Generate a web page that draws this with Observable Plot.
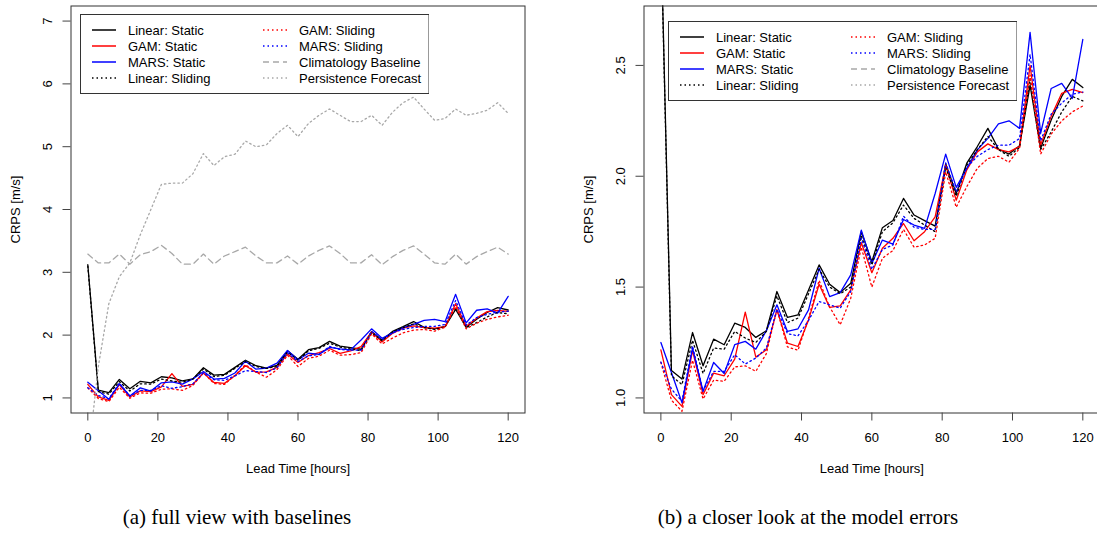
<!DOCTYPE html>
<html><head><meta charset="utf-8">
<script src="https://cdn.jsdelivr.net/npm/d3@7"></script>
<script src="https://cdn.jsdelivr.net/npm/@observablehq/plot@0.6"></script>
<style>
html,body{margin:0;padding:0;background:#fff;overflow:hidden;width:1097px;height:541px;}
#root{position:relative;width:1097px;height:541px;overflow:hidden;font-family:"Liberation Sans",Arial,sans-serif;}
.panel{position:absolute;top:0;}
.panel svg{max-width:none !important;}
.legend{position:absolute;}
.caption{position:absolute;font-family:"Liberation Serif","Times New Roman",serif;font-size:21px;line-height:21px;color:#000;white-space:nowrap;transform:translateX(-50%);}
</style></head><body><div id="root"></div>
<script>
// ---- data ----
const leadTimes = [0,3,6,9,12,15,18,21,24,27,30,33,36,39,42,45,48,51,54,57,60,63,66,69,72,75,78,81,84,87,90,93,96,99,102,105,108,111,114,117,120];
const linearStatic = [3.12,1.124,1.085,1.295,1.145,1.265,1.24,1.337,1.318,1.273,1.303,1.48,1.363,1.375,1.487,1.60,1.513,1.475,1.517,1.75,1.615,1.768,1.80,1.90,1.825,1.80,1.775,2.057,1.922,2.059,2.134,2.216,2.123,2.10,2.138,2.41,2.126,2.254,2.36,2.437,2.40];
const gamStatic = [1.217,1.015,0.962,1.213,1.015,1.112,1.10,1.175,1.387,1.184,1.217,1.397,1.247,1.232,1.352,1.513,1.408,1.415,1.487,1.70,1.565,1.675,1.72,1.787,1.709,1.75,1.817,2.05,1.892,2.029,2.11,2.146,2.12,2.11,2.134,2.50,2.141,2.27,2.374,2.392,2.377];
const marsStatic = [1.25,1.115,0.978,1.225,1.03,1.16,1.11,1.24,1.255,1.22,1.303,1.42,1.30,1.312,1.397,1.585,1.457,1.475,1.555,1.757,1.607,1.712,1.694,1.805,1.78,1.765,1.922,2.10,1.95,2.036,2.119,2.171,2.236,2.25,2.216,2.649,2.194,2.396,2.419,2.351,2.617];
const linearSliding = [3.1,1.10,1.06,1.26,1.11,1.225,1.22,1.30,1.27,1.25,1.30,1.46,1.34,1.36,1.47,1.58,1.50,1.47,1.50,1.73,1.60,1.75,1.79,1.87,1.81,1.78,1.75,2.04,1.91,2.05,2.12,2.18,2.12,2.09,2.13,2.44,2.12,2.20,2.29,2.36,2.34];
const gamSliding = [1.16,0.99,0.94,1.17,0.995,1.08,1.075,1.14,1.145,1.12,1.20,1.40,1.23,1.215,1.36,1.53,1.41,1.33,1.45,1.68,1.50,1.63,1.665,1.76,1.68,1.69,1.72,2.02,1.86,1.953,2.036,2.08,2.09,2.063,2.126,2.456,2.10,2.19,2.25,2.29,2.317];
const marsSliding = [1.162,1.04,0.985,1.235,1.03,1.12,1.12,1.195,1.153,1.18,1.225,1.40,1.29,1.28,1.35,1.435,1.42,1.405,1.48,1.72,1.58,1.67,1.69,1.82,1.77,1.76,1.76,2.06,1.93,2.04,2.09,2.12,2.14,2.14,2.17,2.55,2.16,2.28,2.33,2.37,2.38];
const climatology = [3.29,3.15,3.15,3.29,3.13,3.28,3.33,3.43,3.30,3.13,3.13,3.29,3.13,3.26,3.33,3.40,3.26,3.15,3.15,3.26,3.13,3.26,3.35,3.42,3.30,3.15,3.15,3.28,3.12,3.25,3.35,3.42,3.29,3.15,3.13,3.29,3.13,3.25,3.33,3.40,3.29];
const persistence = [0,1.5,2.5,2.93,3.15,3.6,4.0,4.4,4.42,4.42,4.57,4.89,4.7,4.84,4.88,5.09,5.0,5.03,5.21,5.34,5.16,5.37,5.5,5.6,5.5,5.4,5.4,5.5,5.34,5.55,5.7,5.79,5.6,5.42,5.45,5.6,5.5,5.53,5.58,5.7,5.53];

const seriesNames = ["Linear: Static","GAM: Static","MARS: Static","Linear: Sliding","GAM: Sliding","MARS: Sliding","Climatology Baseline","Persistence Forecast"];
const seriesValues = [linearStatic,gamStatic,marsStatic,linearSliding,gamSliding,marsSliding,climatology,persistence];
const xTicks = [0,20,40,60,80,100,120];
const yTicksFull = [1,2,3,4,5,6,7];
const yTicksZoom = [1.0,1.5,2.0,2.5];
const xLabel = "Lead Time [hours]";
const yLabel = "CRPS [m/s]";
const captions = ["(a) full view with baselines","(b) a closer look at the model errors"];

// ---- styles ----
const seriesColor = ["#000000","#ff0000","#0000ff","#000000","#ff0000","#0000ff","#a8a8a8","#a8a8a8"];
const seriesDash = [null,null,null,"1.5,3","1.5,3","1.5,3","6,4","1.5,3"];

const rowsFor = i => leadTimes.map((t, j) => ({lead: t, value: seriesValues[i][j]}));

function panel({width, marginLeft, marginRight, yDomain, yTicks, yFmt, seriesIdx}) {
  const H = 490;
  return Plot.plot({
    width, height: H,
    marginLeft, marginRight, marginTop: 5.5, marginBottom: H - 412.5,
    x: {domain: [-4.8, 124.8]},
    y: {domain: yDomain},
    style: {fontFamily: '"Liberation Sans", Arial, sans-serif', fontSize: "13px", background: "transparent", overflow: "visible", color: "#000", maxWidth: "none"},
    marks: [
      ...seriesIdx.map(i => Plot.line(rowsFor(i), {x: "lead", y: "value", stroke: seriesColor[i], strokeWidth: 1.3, strokeDasharray: seriesDash[i], clip: true})),
      Plot.frame({stroke: "#333", strokeWidth: 1}),
      Plot.axisX(xTicks, {anchor: "bottom", tickSize: 8, tickFormat: () => "", label: null, stroke: "#444"}),
      Plot.axisY(yTicks, {anchor: "left", tickSize: 8, tickFormat: () => "", label: null, stroke: "#444"}),
      Plot.text(xTicks, {x: d => d, frameAnchor: "bottom", dy: 24.8, text: d => String(d), fontSize: 13, lineAnchor: "middle", fill: "#000"}),
      Plot.text(yTicks, {y: d => d, frameAnchor: "left", dx: -23.5, rotate: -90, text: yFmt, fontSize: 13, textAnchor: "middle", lineAnchor: "middle", fill: "#000"}),
      Plot.text([xLabel], {frameAnchor: "bottom", dy: 55.5, text: d => d, fontSize: 13, lineAnchor: "middle", fill: "#000"}),
      Plot.text([yLabel], {frameAnchor: "left", dx: -55, rotate: -90, text: d => d, fontSize: 13, textAnchor: "middle", lineAnchor: "middle", fill: "#000"})
    ]
  });
}

const root = document.getElementById("root");

function place(el, left, width) {
  const d = document.createElement("div");
  d.className = "panel"; d.style.left = left + "px"; d.style.width = width + "px"; d.style.height = "490px";
  el.style.maxWidth = "none"; el.style.width = width + "px"; el.style.height = "490px";
  d.appendChild(el); root.appendChild(d);
}

place(panel({width: 550, marginLeft: 70.5, marginRight: 25.5, yDomain: [0.76, 7.24], yTicks: yTicksFull, yFmt: d => String(d), seriesIdx: [0,1,2,3,4,5,6,7]}), 0, 550);
place(panel({width: 560, marginLeft: 93.5, marginRight: 10.8, yDomain: [0.932, 2.768], yTicks: yTicksZoom, yFmt: d => d.toFixed(1), seriesIdx: [0,1,2,3,4,5]}), 550, 560);

function legend(left, top) {
  const W = 348.5, Hh = 79;
  const div = document.createElement("div");
  div.className = "legend"; div.style.left = left + "px"; div.style.top = top + "px";
  const svg = d3.select(div).append("svg").attr("width", W + 1).attr("height", Hh + 1);
  svg.append("rect").attr("x", 0.5).attr("y", 0.5).attr("width", W).attr("height", Hh).attr("fill", "#fff").attr("stroke", "#333").attr("stroke-width", 1);
  seriesNames.forEach((name, i) => {
    const col = Math.floor(i / 4), row = i % 4;
    const y = 16 + row * 16;
    const x0 = col === 0 ? 12 : 183;
    svg.append("line").attr("x1", x0).attr("x2", x0 + 24).attr("y1", y).attr("y2", y)
      .attr("stroke", seriesColor[i]).attr("stroke-width", 1.5)
      .attr("stroke-dasharray", seriesDash[i]);
    svg.append("text").attr("x", x0 + 36).attr("y", y).attr("dy", "0.35em")
      .attr("font-family", '"Liberation Sans", Arial, sans-serif').attr("font-size", 13)
      .attr("fill", "#000").text(name);
  });
  root.appendChild(div);
}
legend(79.5, 14);
legend(667.5, 20.5);

[[237, captions[0]], [808, captions[1]]].forEach(([cx, txt]) => {
  const c = document.createElement("div");
  c.className = "caption"; c.style.left = cx + "px"; c.style.top = "507px";
  c.textContent = txt; root.appendChild(c);
});
</script></body></html>
